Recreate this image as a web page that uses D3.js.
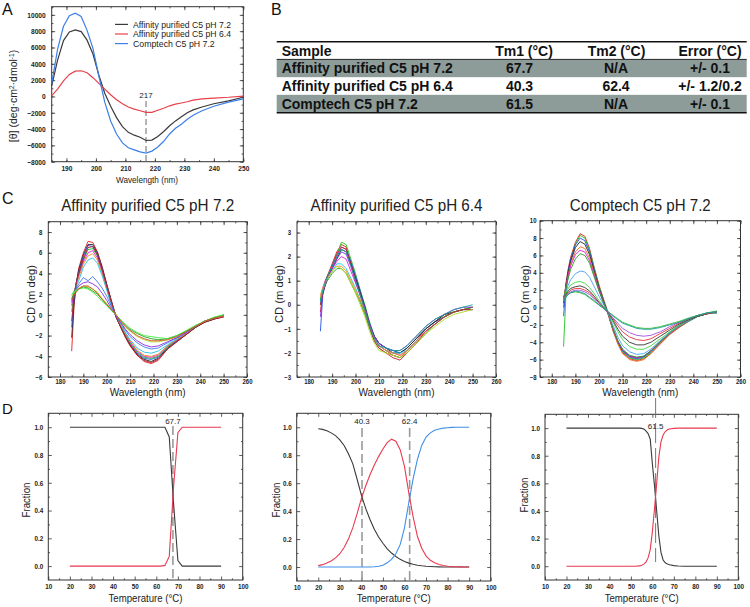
<!DOCTYPE html>
<html><head><meta charset="utf-8">
<script src="https://cdn.jsdelivr.net/npm/d3@7"></script>
<style>body{margin:0;background:#fff}svg{display:block}</style>
</head><body>
<svg id="fig" width="750" height="607"></svg>
<script>
// ---------------- DATA ----------------
// Panel A : mean residue ellipticity spectra
const aWave = [185,187,189,191,193,195,197,199,201,203,205,207,209,211,213,215,217,219,221,223,225,227,229,231,233,236,240,245,250];
const aAffinity72 = [1300,4450,6850,7900,8150,7950,6900,5200,2600,400,-1200,-2600,-3700,-4400,-4750,-5000,-5400,-5350,-4900,-4300,-3600,-3000,-2500,-2000,-1650,-1300,-900,-550,-100];
const aAffinity64 = [100,900,1900,2700,3100,3150,2900,2300,1600,900,200,-400,-900,-1300,-1550,-1750,-1950,-1950,-1700,-1450,-1150,-950,-800,-650,-450,-300,-200,-100,50];
const aComptech72 = [1600,5800,8600,9900,10200,9800,8100,5900,2500,-700,-3000,-4600,-5700,-6300,-6550,-6800,-6950,-6700,-6200,-5500,-4600,-3900,-3400,-2800,-2300,-1750,-1200,-700,-300];
const aLegend = ["Affinity purified C5 pH 7.2","Affinity purified C5 pH 6.4","Comptech C5 pH 7.2"];
const aXTicks = [190,200,210,220,230,240,250];
const aYTicks = [-8000,-6000,-4000,-2000,0,2000,4000,6000,8000,10000];
const aMinimum = 217;

// Panel B : table
const tableHeader = ["Sample","Tm1 (°C)","Tm2 (°C)","Error (°C)"];
const tableSamples = ["Affinity purified C5 pH 7.2","Affinity purified C5 pH 6.4","Comptech C5 pH 7.2"];
const tableTm1 = ["67.7","40.3","61.5"];
const tableTm2 = ["N/A","62.4","N/A"];
const tableError = ["+/- 0.1","+/- 1.2/0.2","+/- 0.1"];

// Panel C : thermal CD spectra (m deg)
const cTitles = ["Affinity purified C5 pH 7.2","Affinity purified C5 pH 6.4","Comptech C5 pH 7.2"];
const cWave = [185,186,187,188,190,192,194,196,198,200,202,204,206,208,210,213,216,219,222,226,230,234,238,242,246,250];
const cXTicks = [180,190,200,210,220,230,240,250,260];
const c1YTicks = [-6,-4,-2,0,2,4,6,8];
const c2YTicks = [-3,-2,-1,0,1,2,3];
const c3YTicks = [-8,-6,-4,-2,0,2,4,6,8,10];
const c1Spectra = [
 [-3.5,0.8,3.0,4.5,6.0,7.1,7.0,6.1,4.7,3.0,1.4,-0.2,-1.2,-2.2,-3.0,-3.9,-4.5,-4.7,-4.4,-3.3,-2.6,-1.9,-1.2,-0.7,-0.4,-0.2],
 [-2.2,1.2,3.1,4.3,5.8,6.8,6.8,6.0,4.6,2.9,1.3,-0.2,-1.2,-2.1,-2.9,-3.8,-4.3,-4.5,-4.2,-3.2,-2.5,-1.9,-1.2,-0.7,-0.4,-0.1],
 [-1.2,1.6,3.2,4.1,5.6,6.7,6.6,5.9,4.5,2.8,1.2,-0.2,-1.1,-2.0,-2.8,-3.7,-4.2,-4.3,-4.1,-3.1,-2.5,-1.8,-1.2,-0.6,-0.3,0.0],
 [0.3,2.0,3.0,3.9,5.3,6.3,6.4,5.7,4.3,2.7,1.1,-0.1,-1.1,-2.0,-2.7,-3.6,-4.1,-4.2,-4.0,-3.1,-2.4,-1.8,-1.1,-0.6,-0.3,-0.1],
 [0.9,2.1,3.1,3.8,5.1,6.0,6.2,5.5,4.2,2.6,1.0,-0.1,-1.0,-1.8,-2.6,-3.5,-4.0,-4.1,-3.9,-3.0,-2.4,-1.8,-1.1,-0.6,-0.3,-0.2],
 [1.4,2.2,2.9,3.6,4.9,5.7,5.9,5.3,4.0,2.5,1.0,-0.1,-1.0,-1.8,-2.5,-3.4,-3.9,-4.0,-3.8,-3.0,-2.4,-1.8,-1.1,-0.6,-0.3,-0.1],
 [1.9,2.3,2.8,3.3,4.6,5.3,5.5,5.0,3.8,2.4,0.9,-0.1,-0.9,-1.7,-2.4,-3.2,-3.6,-3.7,-3.5,-2.9,-2.3,-1.7,-1.1,-0.6,-0.3,-0.1],
 [-0.6,1.8,3.1,4.0,5.4,6.5,6.6,5.8,4.4,2.8,1.2,-0.2,-1.2,-2.1,-2.9,-3.9,-4.4,-4.6,-4.3,-3.3,-2.6,-1.9,-1.2,-0.7,-0.4,-0.2],
 [1.5,2.0,2.6,3.0,3.6,3.3,3.7,3.2,2.6,1.8,0.8,-0.1,-0.8,-1.5,-2.1,-2.7,-3.1,-3.3,-3.2,-2.7,-2.2,-1.7,-1.1,-0.6,-0.3,-0.1],
 [1.2,2.0,2.4,2.8,3.1,3.2,3.0,2.7,2.1,1.4,0.6,-0.1,-0.7,-1.4,-1.9,-2.5,-2.9,-3.1,-3.0,-2.6,-2.2,-1.7,-1.1,-0.6,-0.3,-0.1],
 [1.8,2.1,2.4,2.6,2.8,2.7,2.5,2.2,1.6,1.1,0.5,0.0,-0.6,-1.2,-1.6,-2.1,-2.4,-2.6,-2.6,-2.4,-2.1,-1.6,-1.1,-0.6,-0.3,-0.1],
 [1.6,2.0,2.3,2.5,2.7,2.6,2.3,2.0,1.5,1.0,0.5,0.0,-0.5,-1.0,-1.4,-1.8,-2.1,-2.3,-2.4,-2.3,-2.0,-1.6,-1.1,-0.6,-0.3,0.0],
 [2.0,2.2,2.4,2.5,2.6,2.5,2.2,1.8,1.3,0.9,0.4,0.0,-0.5,-0.9,-1.3,-1.7,-2.0,-2.1,-2.2,-2.3,-2.0,-1.5,-1.0,-0.6,-0.2,0.0],
 [1.4,1.9,2.2,2.5,2.8,2.8,2.5,2.1,1.5,1.0,0.5,0.0,-0.6,-1.1,-1.5,-2.0,-2.3,-2.5,-2.5,-2.4,-2.1,-1.6,-1.1,-0.6,-0.3,-0.1]
];
const c2Spectra = [
 [-0.3,0.5,0.9,1.2,1.7,2.2,2.5,2.4,1.7,1.1,0.5,-0.1,-0.8,-1.4,-1.7,-1.9,-2.1,-2.2,-1.9,-1.5,-1.0,-0.7,-0.5,-0.3,-0.2,-0.2],
 [0.2,0.6,0.9,1.2,1.6,2.1,2.6,2.5,1.9,1.3,0.6,0.0,-0.7,-1.3,-1.6,-1.8,-1.9,-2.0,-1.8,-1.4,-1.0,-0.7,-0.4,-0.3,-0.2,-0.1],
 [-1.1,0.4,0.8,1.1,1.6,2.0,2.4,2.3,1.8,1.2,0.6,-0.1,-0.8,-1.3,-1.6,-1.8,-1.9,-2.0,-1.8,-1.4,-1.0,-0.7,-0.5,-0.3,-0.2,-0.2],
 [0.0,0.5,0.8,1.1,1.5,1.9,2.3,2.2,1.7,1.1,0.5,-0.1,-0.8,-1.3,-1.6,-1.8,-2.0,-2.0,-1.8,-1.4,-1.0,-0.7,-0.4,-0.3,-0.2,-0.1],
 [0.3,0.7,1.0,1.2,1.5,1.8,2.0,1.9,1.4,0.9,0.4,-0.2,-0.8,-1.4,-1.7,-1.9,-2.0,-2.1,-1.9,-1.5,-1.1,-0.8,-0.5,-0.3,-0.2,-0.2],
 [0.1,0.6,0.9,1.1,1.4,1.7,1.7,1.5,1.1,0.7,0.2,-0.3,-0.9,-1.4,-1.7,-1.9,-2.0,-2.0,-1.9,-1.5,-1.1,-0.8,-0.5,-0.3,-0.2,-0.2],
 [0.4,0.7,0.9,1.1,1.4,1.6,1.6,1.4,1.0,0.6,0.2,-0.3,-0.9,-1.4,-1.7,-1.9,-2.0,-2.1,-1.9,-1.5,-1.1,-0.8,-0.5,-0.3,-0.2,-0.1],
 [0.2,0.6,0.8,1.0,1.3,1.5,1.5,1.3,0.9,0.5,0.1,-0.4,-1.0,-1.5,-1.8,-2.0,-2.1,-2.2,-2.0,-1.6,-1.2,-0.8,-0.5,-0.3,-0.2,-0.1],
 [-0.5,0.5,0.8,1.1,1.5,1.9,2.2,2.1,1.6,1.0,0.4,-0.1,-0.8,-1.3,-1.6,-1.8,-1.9,-1.9,-1.7,-1.3,-0.9,-0.6,-0.4,-0.2,-0.1,-0.1],
 [0.0,0.5,0.9,1.2,1.6,2.1,2.4,2.3,1.7,1.0,0.4,-0.2,-0.9,-1.5,-1.8,-2.0,-2.2,-2.3,-2.0,-1.6,-1.1,-0.8,-0.5,-0.3,-0.2,-0.2],
 [0.3,0.6,0.9,1.1,1.4,1.6,1.5,1.3,0.9,0.5,0.0,-0.5,-1.1,-1.6,-1.9,-2.0,-2.1,-2.2,-2.0,-1.6,-1.2,-0.9,-0.6,-0.4,-0.3,-0.2],
 [0.1,0.6,0.9,1.2,1.6,2.0,2.3,2.2,1.6,1.0,0.4,-0.2,-0.9,-1.4,-1.7,-1.8,-1.9,-1.9,-1.7,-1.3,-0.9,-0.6,-0.4,-0.2,-0.1,0.0]
];
const c3Spectra = [
 [0.0,2.8,4.5,5.8,7.5,8.5,8.2,6.8,4.6,2.6,0.9,-0.7,-2.6,-4.1,-5.2,-5.9,-6.1,-5.9,-5.3,-4.2,-3.1,-2.3,-1.6,-1.0,-0.7,-0.5],
 [-4.5,1.5,4.0,5.5,7.3,8.3,8.0,6.6,4.5,2.5,0.8,-0.8,-2.7,-4.1,-5.1,-5.8,-6.0,-5.8,-5.2,-4.1,-3.0,-2.2,-1.6,-1.0,-0.7,-0.6],
 [-1.0,2.5,4.3,5.6,7.2,8.0,7.7,6.4,4.3,2.3,0.7,-0.8,-2.6,-4.0,-5.0,-5.7,-5.9,-5.7,-5.1,-4.0,-3.0,-2.2,-1.5,-1.0,-0.7,-0.6],
 [0.5,2.6,4.1,5.3,6.9,7.6,7.3,6.1,4.1,2.2,0.6,-0.8,-2.5,-3.9,-4.9,-5.6,-5.8,-5.6,-5.0,-3.9,-2.9,-2.1,-1.5,-1.0,-0.7,-0.5],
 [1.0,2.4,3.8,5.0,6.4,7.0,6.8,5.7,3.9,2.1,0.5,-0.9,-2.7,-4.2,-5.3,-6.0,-6.2,-6.0,-5.3,-4.1,-3.0,-2.2,-1.5,-1.0,-0.7,-0.5],
 [0.8,2.3,3.7,4.8,6.1,6.6,6.4,5.4,3.7,2.0,0.5,-0.8,-2.5,-3.9,-4.9,-5.6,-5.8,-5.6,-5.0,-3.9,-2.9,-2.1,-1.5,-1.0,-0.7,-0.6],
 [1.2,2.2,3.4,4.4,5.6,6.2,6.0,5.1,3.5,1.9,0.5,-0.8,-2.4,-3.8,-4.8,-5.5,-5.7,-5.6,-5.0,-3.9,-2.9,-2.1,-1.5,-1.0,-0.7,-0.5],
 [0.8,1.8,2.6,3.2,3.9,4.2,4.1,3.5,2.4,1.3,0.3,-0.7,-2.1,-3.4,-4.4,-5.1,-5.4,-5.3,-4.8,-3.8,-2.9,-2.1,-1.5,-1.0,-0.7,-0.6],
 [1.0,1.6,2.2,2.6,2.9,3.0,2.8,2.3,1.6,0.8,0.1,-0.6,-1.7,-2.8,-3.7,-4.5,-4.8,-4.8,-4.4,-3.6,-2.8,-2.0,-1.4,-1.0,-0.7,-0.6],
 [1.2,1.5,1.9,2.2,2.4,2.5,2.3,1.9,1.3,0.6,0.0,-0.6,-1.5,-2.5,-3.3,-4.0,-4.3,-4.3,-4.0,-3.3,-2.6,-1.9,-1.4,-1.0,-0.7,-0.5],
 [1.0,1.4,1.7,2.0,2.2,2.2,2.0,1.7,1.1,0.5,-0.1,-0.6,-1.3,-2.1,-2.8,-3.4,-3.7,-3.8,-3.6,-3.0,-2.4,-1.8,-1.3,-0.9,-0.7,-0.5],
 [1.1,1.4,1.6,1.8,2.0,2.0,1.8,1.5,1.0,0.5,-0.1,-0.6,-1.2,-1.8,-2.4,-2.9,-3.2,-3.3,-3.2,-2.8,-2.2,-1.7,-1.3,-0.9,-0.6,-0.5],
 [1.0,1.3,1.5,1.7,1.8,1.7,1.5,1.1,0.7,0.3,-0.1,-0.5,-0.9,-1.3,-1.7,-2.0,-2.3,-2.4,-2.4,-2.2,-1.9,-1.6,-1.2,-0.9,-0.6,-0.4],
 [0.6,1.2,1.5,1.7,1.9,1.8,1.6,1.2,0.8,0.3,-0.1,-0.5,-1.0,-1.4,-1.8,-2.1,-2.4,-2.5,-2.5,-2.3,-2.0,-1.7,-1.3,-0.9,-0.6,-0.5]
];
const c1Colors = ["#e41a1c","#222222","#2450e6","#1cc41c","#e01ee0","#f08c1e","#1ec3e6","#b0182a","#3a7af0","#8a2be2","#b6d81c","#22a022","#3cf03c","#d2502a"];
const c2Colors = ["#e41a1c","#1cc41c","#2450e6","#222222","#e01ee0","#1ec3e6","#f08c1e","#22a022","#8a2be2","#c81e3c","#b6d81c","#1aa0a0"];
const c3Colors = ["#e41a1c","#1cc41c","#2450e6","#222222","#f06a1e","#e01ee0","#22a022","#4aa0f0","#3cd83c","#333333","#e83232","#a050e0","#30c030","#1a9a9a"];

// Panel D : fraction vs temperature
const dXTicks = [10,20,30,40,50,60,70,80,90,100];
const dYTicks = [0,0.2,0.4,0.6,0.8,1.0];
const d1Temp = [20,25,30,35,40,45,50,55,60,62,64,66,68,70,72,74,76,80,85,90];
const d1Native = [1,1,1,1,1,1,1,1,1,1,1,0.93,0.45,0.04,0,0,0,0,0,0];
const d1Unfolded = [0,0,0,0,0,0,0,0,0,0,0.005,0.07,0.57,0.96,1,1,1,1,1,1];
const d1Tm = [67.7];
const d2Temp = [20,22,24,26,28,30,32,34,36,38,40,42,44,46,48,50,52,54,56,58,60,62,64,66,68,70,72,74,76,78,80,82,84,86,88,90];
const d2Native = [0.99,0.985,0.975,0.96,0.94,0.91,0.87,0.81,0.74,0.63,0.515,0.42,0.34,0.27,0.215,0.17,0.13,0.1,0.075,0.055,0.04,0.028,0.02,0.013,0.009,0.006,0.004,0.002,0.001,0,0,0,0,0,0,0];
const d2Intermediate = [0.01,0.017,0.028,0.043,0.065,0.095,0.14,0.2,0.28,0.38,0.49,0.58,0.66,0.73,0.79,0.845,0.89,0.915,0.9,0.84,0.72,0.53,0.36,0.22,0.135,0.08,0.048,0.03,0.018,0.011,0.006,0.003,0.002,0.001,0,0];
const d2Unfolded = [0,0,0,0,0,0,0,0,0,0,0,0,0,0.002,0.006,0.012,0.03,0.055,0.095,0.16,0.28,0.46,0.63,0.77,0.87,0.93,0.96,0.978,0.988,0.994,0.997,0.999,1,1,1,1];
const d2Tm = [40.3, 62.4];
const d3Temp = [20,25,30,35,40,45,50,52,54,55,56,57,58,59,60,61,62,63,64,65,66,67,68,70,72,75,80,85,90];
const d3Native = [1,1,1,1,1,1,1,1,1,0.998,0.993,0.98,0.96,0.92,0.74,0.58,0.4,0.22,0.1,0.045,0.025,0.015,0.01,0.004,0.001,0,0,0,0];
const d3Unfolded = [0,0,0,0,0,0,0,0,0.002,0.007,0.015,0.03,0.06,0.12,0.25,0.42,0.6,0.79,0.9,0.95,0.975,0.988,0.994,0.998,1,1,1,1,1];
const d3Tm = [61.5];

// ---------------- DRAWING ----------------
const FONT = '"Liberation Sans", Arial, Helvetica, sans-serif';
const svg = d3.select("#fig").attr("font-family", FONT);

function fit(sel, w){ return sel.attr("textLength", w).attr("lengthAdjust","spacingAndGlyphs"); }
function squeeze(sel, f){ sel.each(function(){ const w=this.getComputedTextLength(); if(w>0) d3.select(this).attr("textLength", w*f).attr("lengthAdjust","spacingAndGlyphs"); }); }

function panel(box, xDom, yDom, o){
  const g = svg.append("g");
  const x = d3.scaleLinear().domain(xDom).range([box.l, box.r]);
  const y = d3.scaleLinear().domain(yDom).range([box.b, box.t]);
  const tl = o.tl || 3.5;
  const style = (a, lab) => {
    a.select(".domain").remove();
    a.selectAll(".tick line").attr("stroke","#333").attr("stroke-width",0.8);
    a.selectAll("text").attr("fill","#222").attr("font-size",o.tf).attr("font-weight","bold").attr("font-family",FONT);
    if (lab) squeeze(a.selectAll("text"), 0.88);
  };
  style(g.append("g").attr("transform",`translate(0,${box.b})`).call(d3.axisBottom(x).tickValues(o.xt).tickSizeInner(-tl).tickSizeOuter(0).tickPadding(o.xpad).tickFormat(o.xf)), true);
  style(g.append("g").attr("transform",`translate(0,${box.b})`).call(d3.axisBottom(x).tickValues(o.xm).tickSizeInner(-tl/2).tickSizeOuter(0).tickFormat("")));
  style(g.append("g").attr("transform",`translate(0,${box.t})`).call(d3.axisTop(x).tickValues(o.xt).tickSizeInner(-tl).tickSizeOuter(0).tickFormat("")));
  style(g.append("g").attr("transform",`translate(0,${box.t})`).call(d3.axisTop(x).tickValues(o.xm).tickSizeInner(-tl/2).tickSizeOuter(0).tickFormat("")));
  style(g.append("g").attr("transform",`translate(${box.l},0)`).call(d3.axisLeft(y).tickValues(o.yt).tickSizeInner(-tl).tickSizeOuter(0).tickPadding(o.ypad).tickFormat(o.yf)), true);
  style(g.append("g").attr("transform",`translate(${box.l},0)`).call(d3.axisLeft(y).tickValues(o.ym).tickSizeInner(-tl/2).tickSizeOuter(0).tickFormat("")));
  style(g.append("g").attr("transform",`translate(${box.r},0)`).call(d3.axisRight(y).tickValues(o.yt).tickSizeInner(-tl).tickSizeOuter(0).tickFormat("")));
  style(g.append("g").attr("transform",`translate(${box.r},0)`).call(d3.axisRight(y).tickValues(o.ym).tickSizeInner(-tl/2).tickSizeOuter(0).tickFormat("")));
  g.append("rect").attr("x",box.l).attr("y",box.t).attr("width",box.r-box.l).attr("height",box.b-box.t)
    .attr("fill","none").attr("stroke","#333").attr("stroke-width",1);
  const line = d3.line().x(d=>x(d[0])).y(d=>y(d[1]));
  return {g,x,y,line};
}
function minors(a, b, s){ return d3.range(a, b + s/2, s); }

function label(t, x, y, size, opts={}){
  const e = svg.append("text").attr("x",x).attr("y",y).attr("font-size",size).attr("fill",opts.fill||"#111")
    .attr("text-anchor",opts.anchor||"start").attr("font-weight",opts.weight||"normal").text(t);
  if (opts.rot) e.attr("transform",`rotate(-90,${x},${y})`);
  if (opts.w) fit(e, opts.w);
  return e;
}

// Panel letters
label("A", 2, 15, 16); label("B", 271, 15, 16); label("C", 2, 203.5, 16); label("D", 2, 414, 15);

// ---- Panel A ----
const pA = panel({l:51.7,r:243.3,t:6.7,b:161.7},[185,250],[-8000,11000],
  {xt:aXTicks, xm:minors(185,250,5), yt:aYTicks, ym:minors(-8000,11000,1000), xf:d3.format("d"), yf:d3.format("d"), xpad:4, ypad:6, tf:7.5});
pA.g.append("line").attr("x1",pA.x(aMinimum)).attr("x2",pA.x(aMinimum)).attr("y1",101).attr("y2",161.7)
  .attr("stroke","#8c8c8c").attr("stroke-width",1.3).attr("stroke-dasharray","6,3");
label(String(aMinimum), pA.x(aMinimum), 98, 8, {anchor:"middle", fill:"#222"});
const aSeries = [aAffinity72, aAffinity64, aComptech72];
const aColors = ["#3a3a3a","#e8404a","#3d7fe8"];
aSeries.forEach((s,i)=>{
  pA.g.append("path").datum(d3.zip(aWave, s)).attr("d", pA.line).attr("fill","none").attr("stroke",aColors[i]).attr("stroke-width",1.2);
});
aLegend.forEach((t,i)=>{
  const yy = [24.4,34,43.6][i];
  svg.append("line").attr("x1",115).attr("x2",128).attr("y1",yy).attr("y2",yy).attr("stroke",aColors[i]).attr("stroke-width",1.2);
  label(t, 133, yy+3.1, 8.5, {fill:"#222", w:[98,98,81.7][i]});
});
label("Wavelength (nm)", 147, 182.5, 8.5, {anchor:"middle", fill:"#222", w:62});
{
  const e = svg.append("text").attr("transform","translate(17,96) rotate(-90)").attr("text-anchor","middle")
    .attr("font-size",10.5).attr("fill","#222");
  e.append("tspan").text("[θ] (deg·cm");
  e.append("tspan").attr("dy",-3.5).attr("font-size",6.5).text("2");
  e.append("tspan").attr("dy",3.5).text("·dmol");
  e.append("tspan").attr("dy",-3.5).attr("font-size",6.5).text("-1");
  e.append("tspan").attr("dy",3.5).text(")");
}

// ---- Panel B (table) ----
const tX0 = 276.7, tX1 = 746.7;
const rows = d3.scaleBand().domain(tableSamples).range([59.5,112.5]);
const tb = svg.append("g").attr("font-weight","bold").attr("font-size",14).attr("fill","#111");
tableSamples.forEach((s,i)=>{
  if (i % 2 === 0) tb.append("rect").attr("x",tX0).attr("y",rows(s)).attr("width",tX1-tX0).attr("height",rows.bandwidth()).attr("fill","#8d9c99");
});
tb.append("line").attr("x1",tX0).attr("x2",tX1).attr("y1",41.7).attr("y2",41.7).attr("stroke","#111").attr("stroke-width",1.6);
tb.append("line").attr("x1",tX0).attr("x2",tX1).attr("y1",59.4).attr("y2",59.4).attr("stroke","#111").attr("stroke-width",0.9);
tb.append("line").attr("x1",tX0).attr("x2",tX1).attr("y1",112.8).attr("y2",112.8).attr("stroke","#111").attr("stroke-width",1.6);
const headX = [281.7, 524, 616.5, 710], headAnchor = ["start","middle","middle","middle"];
tableHeader.forEach((h,j)=> tb.append("text").attr("x",headX[j]).attr("y",56).attr("text-anchor",headAnchor[j]).text(h));
const valX = [281.7, 519.5, 616, 710];
tableSamples.forEach((s,i)=>{
  const yb = rows(s) + rows.bandwidth()/2 + 5;
  [s, tableTm1[i], tableTm2[i], tableError[i]].forEach((v,j)=>
    tb.append("text").attr("x",valX[j]).attr("y",yb).attr("text-anchor",headAnchor[j]).text(v));
});

// ---- Panel C ----
const cBoxes = [{l:48.3,r:247,t:221.7,b:377},{l:297,r:496,t:221.7,b:377},{l:540,r:740.5,t:220.7,b:377}];
const cYDom = [[-6,9],[-3,3.45],[-8,10]];
const cYT = [c1YTicks, c2YTicks, c3YTicks];
const cYM = [minors(-6,9,1), minors(-3,3.45,0.5), minors(-8,10,1)];
const cSpec = [c1Spectra, c2Spectra, c3Spectra];
const cCol = [c1Colors, c2Colors, c3Colors];
const cTitleW = [173,172,141];
const cYLabX = [30.7, 279.3, 525];
cBoxes.forEach((b,k)=>{
  const p = panel(b,[175,260],cYDom[k],{xt:cXTicks, xm:minors(175,260,5), yt:cYT[k], ym:cYM[k], xf:d3.format("d"), yf:d3.format("d"), xpad:2.5, ypad:k===2?3.5:6, tf:6.8});
  cSpec[k].forEach((s,i)=>{
    p.g.append("path").datum(d3.zip(cWave, s)).attr("d", p.line).attr("fill","none")
      .attr("stroke", cCol[k][i % cCol[k].length]).attr("stroke-width",0.9);
  });
  const cx = (b.l+b.r)/2;
  label(cTitles[k], cx, 211, 16, {anchor:"middle", fill:"#222", w:cTitleW[k]});
  label("Wavelength (nm)", cx, 396, 10.5, {anchor:"middle", fill:"#222", w:76});
  label("CD (m deg)", cYLabX[k]+4, 294, 11, {anchor:"middle", fill:"#222", rot:true, w:58});
});

// ---- Panel D ----
const dBoxes = [{l:48.3,r:242.7,t:413.3,b:580},{l:296.7,r:490.7,t:413.3,b:581},{l:545,r:738.3,t:414.3,b:580}];
const dYLab = [[26,500],[276,500],[524,495]];
const dPanels = dBoxes.map((b,k)=>{
  const p = panel(b,[10,100],[-0.1,1.1],{xt:dXTicks, xm:minors(15,95,10), yt:dYTicks, ym:minors(0.1,0.9,0.2), xf:d3.format("d"), yf:d3.format(".1f"), xpad:4, ypad:5, tf:7.2});
  const cx = (b.l+b.r)/2;
  label("Temperature (°C)", cx, 602, 11, {anchor:"middle", fill:"#222", w:74});
  label("Fraction", dYLab[k][0]+4, dYLab[k][1], 11, {anchor:"middle", fill:"#222", rot:true, w:35});
  return p;
});
const black = "#3a3a3a", red = "#e83a50", blue = "#3f8fe8";
function curve(p, xs, ys, col){
  p.g.append("path").datum(d3.zip(xs, ys)).attr("d", p.line).attr("fill","none").attr("stroke",col).attr("stroke-width",1.1);
}
function tmLine(p, t, y1, y2, dash, col, w, labY){
  p.g.append("line").attr("x1",p.x(t)).attr("x2",p.x(t)).attr("y1",y1).attr("y2",y2)
    .attr("stroke",col).attr("stroke-width",w).attr("stroke-dasharray",dash);
  label(String(t), p.x(t), labY, 8, {anchor:"middle", fill:"#222"});
}
// D1
tmLine(dPanels[0], d1Tm[0], 426, 580, "9,4", "#8c8c8c", 1.4, 423.5);
curve(dPanels[0], d1Temp, d1Native, black);
curve(dPanels[0], d1Temp, d1Unfolded, red);
// D2
d2Tm.forEach(t=> tmLine(dPanels[1], t, 428, 581, "9,4", "#9a9a9a", 1.6, 424));
curve(dPanels[1], d2Temp, d2Native, black);
curve(dPanels[1], d2Temp, d2Intermediate, red);
curve(dPanels[1], d2Temp, d2Unfolded, blue);
// D3
tmLine(dPanels[2], d3Tm[0], 398, 562, "20,5", "#666", 0.9, 429);
curve(dPanels[2], d3Temp, d3Native, black);
curve(dPanels[2], d3Temp, d3Unfolded, red);
</script>
</body></html>
